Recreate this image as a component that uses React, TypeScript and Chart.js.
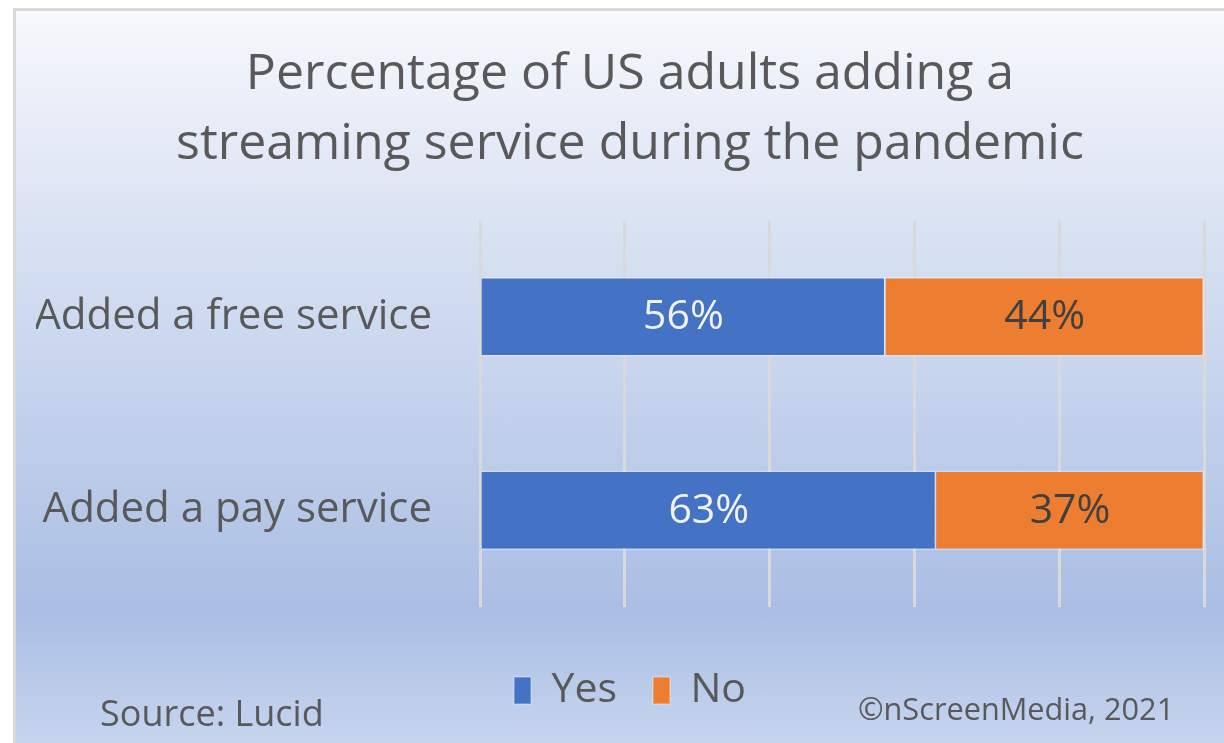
import React, { useEffect, useRef } from "react";
import { Chart, registerables } from "chart.js";

Chart.register(...registerables);

const titleLines = ["Percentage of US adults adding a", "streaming service during the pandemic"];
const categories = ["Added a free service", "Added a pay service"];
const yesValues = [56, 63];
const noValues = [44, 37];
const seriesNames = ["Yes", "No"];
const seriesColors = ["#4472C4", "#ED7D31"];
const labelColors = ["#f2f2f2", "#404040"];
const sourceText = "Source: Lucid";
const copyrightText = "©nScreenMedia, 2021";

const FONT = "'Open Sans', sans-serif";

const dataLabelPlugin = {
  id: "dataLabels",
  afterDatasetsDraw(chart: any) {
    const ctx = chart.ctx;
    ctx.save();
    ctx.font = `41px ${FONT}`;
    ctx.textAlign = "center";
    ctx.textBaseline = "middle";
    chart.data.datasets.forEach((ds: any, di: number) => {
      const meta = chart.getDatasetMeta(di);
      meta.data.forEach((el: any, i: number) => {
        const p = el.getProps(["x", "y", "base"], true);
        ctx.fillStyle = labelColors[di];
        ctx.fillText(`${ds.data[i]}%`, (p.x + p.base) / 2, p.y + 1);
      });
    });
    ctx.restore();
  },
};

const footerPlugin = {
  id: "footerTexts",
  afterDraw(chart: any) {
    const ctx = chart.ctx;
    ctx.save();
    ctx.fillStyle = "#595959";
    ctx.textAlign = "left";
    ctx.textBaseline = "alphabetic";
    ctx.font = `36px ${FONT}`;
    ctx.fillText(sourceText, 64, 726);
    ctx.font = `30.7px ${FONT}`;
    ctx.fillText(copyrightText, 822, 720);
    ctx.restore();
  },
};

export default function App() {
  const ref = useRef<HTMLCanvasElement | null>(null);
  useEffect(() => {
    if (!ref.current) return;
    const chart = new Chart(ref.current, {
      type: "bar",
      data: {
        labels: categories,
        datasets: [
          {
            label: seriesNames[0],
            data: yesValues,
            backgroundColor: seriesColors[0],
            borderColor: "rgba(255,255,255,0.35)",
            borderWidth: 1.5,
            barPercentage: 0.41,
            categoryPercentage: 1,
          },
          {
            label: seriesNames[1],
            data: noValues,
            backgroundColor: seriesColors[1],
            borderColor: "rgba(255,255,255,0.35)",
            borderWidth: 1.5,
            barPercentage: 0.41,
            categoryPercentage: 1,
          },
        ],
      },
      options: {
        indexAxis: "y",
        responsive: false,
        animation: false,
        devicePixelRatio: 1,
        layout: { padding: { top: 0, left: 0, right: 0, bottom: 22 } },
        scales: {
          x: {
            stacked: true,
            min: 0,
            max: 100,
            ticks: { display: false, stepSize: 20 },
            grid: { color: "#d9d9d9", lineWidth: 3, drawTicks: false },
            border: { display: false },
            afterFit(scale: any) {
              scale.height = 27;
            },
          },
          y: {
            stacked: true,
            ticks: { color: "#595959", font: { family: FONT, size: 42 }, padding: 48 },
            grid: { display: false, drawTicks: false },
            border: { display: false },
            afterFit(scale: any) {
              scale.width = 444;
            },
          },
          yRight: {
            type: "category",
            axis: "y",
            position: "right",
            labels: categories,
            ticks: { display: false },
            grid: { display: false, drawTicks: false },
            border: { display: false },
            afterFit(scale: any) {
              scale.width = 20;
            },
          },
        },
        plugins: {
          title: {
            display: true,
            text: titleLines,
            color: "#595959",
            font: { family: FONT, size: 50, weight: "normal", lineHeight: "70px" },
            padding: { top: 40, bottom: 40 },
          },
          legend: {
            display: true,
            position: "bottom",
            labels: {
              color: "#595959",
              font: { family: FONT, size: 41 },
              boxWidth: 17,
              boxHeight: 27,
              padding: 36,
            },
          },
          tooltip: { enabled: false },
        },
      },
      plugins: [dataLabelPlugin, footerPlugin],
    } as any);
    return () => chart.destroy();
  }, []);

  return (
    <div style={{ position: "absolute", left: 0, top: 0, width: 1224, height: 743, background: "#ffffff", overflow: "hidden" }}>
      <div
        style={{
          position: "absolute",
          left: 13,
          top: 8,
          width: 1211,
          height: 735,
          boxSizing: "border-box",
          borderTop: "3px solid #d9d9d9",
          borderLeft: "3px solid #d9d9d9",
          background: "linear-gradient(to bottom, #f6f8fc 0%, #d9e2f3 30%, #aabee4 82%, #c6d4ee 100%)",
        }}
      />
      <canvas ref={ref} width={1188} height={743} style={{ position: "absolute", left: 36, top: 0, width: 1188, height: 743 }} />
    </div>
  );
}
